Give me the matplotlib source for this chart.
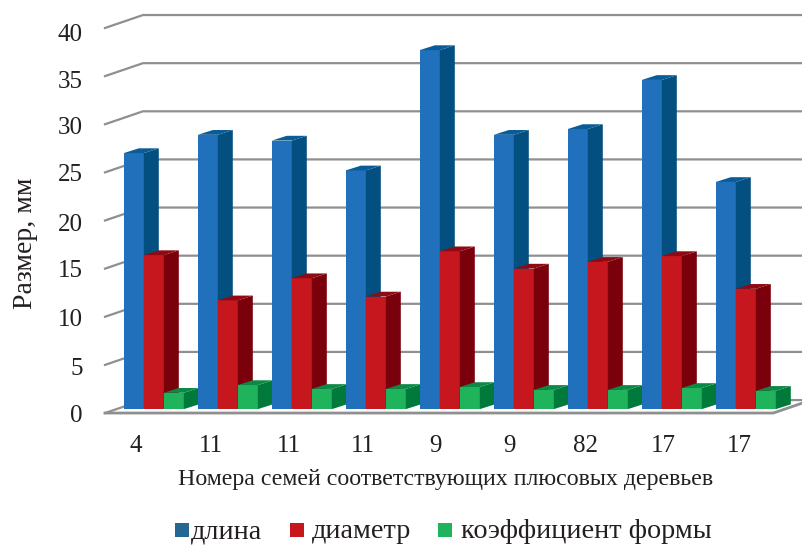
import matplotlib.pyplot as plt
from matplotlib.patches import Polygon, Rectangle

plt.rcParams["font.family"] = ["Liberation Serif", "DejaVu Serif"]

families = ["4", "11", "11", "11", "9", "9", "82", "17", "17"]
lengths = [26.6, 28.5, 27.9, 24.8, 37.3, 28.5, 29.1, 34.2, 23.6]
diameters = [16.0, 11.3, 13.6, 11.7, 16.4, 14.6, 15.3, 15.9, 12.5]
shape_coef = [1.7, 2.5, 2.1, 2.1, 2.3, 2.0, 2.0, 2.2, 1.9]
y_ticks = [0, 5, 10, 15, 20, 25, 30, 35, 40]

# the typeset tick labels are not evenly spaced, so they get their own positions
x_label_pos = [0.42, 1.43, 2.49, 3.49, 4.47, 5.47, 6.50, 7.55, 8.57]
y_label_pos = [-0.1, 4.8, 9.95, 15, 19.8, 25, 29.85, 34.6, 39.5]

WIDTH, HEIGHT = 802, 545
TEXT = "#231f20"
GRID = "#8f8f8f"
PX_X = 74  # pixels per category
PX_Y = 9.65  # pixels per size unit

# depth of the floor and of a single bar, in data units
WALL_DX, WALL_DY = 38 / PX_X, 13 / PX_Y
BAR_DX, BAR_DY = 15 / PX_X, 4.8 / PX_Y
BASE_DX, BASE_DY = 11.4 / PX_X, 3.9 / PX_Y
BAR_W = 20 / PX_X
GAP = 7.4 / PX_X
FLOOR_END = 9.03

series = [
    (lengths, "длина", "#2070bb", "#034f80", "#0a5c98", "#236792"),
    (diameters, "диаметр", "#c6171e", "#7a000c", "#8f0a12", "#c8161d"),
    (shape_coef, "коэффициент формы", "#1fb35b", "#007a3a", "#0b8a45", "#1fb35b"),
]
legend_box_x = [175, 290, 438]
legend_text_x = [191, 312, 461]

fig = plt.figure(figsize=(WIDTH / 100, HEIGHT / 100), dpi=100)
ax = fig.add_axes([105 / WIDTH, 1 - 414 / HEIGHT, 666 / WIDTH, 386 / HEIGHT])
ax.set_xlim(0, 9)
ax.set_ylim(0, 40)
for side in ax.spines.values():
    side.set_visible(False)

# back wall gridlines with their slanted run onto the side wall
right_edge = FLOOR_END + WALL_DX
for v in y_ticks:
    ax.plot(
        [0, WALL_DX, right_edge],
        [v, v + WALL_DY, v + WALL_DY],
        color=GRID,
        lw=1.6,
        clip_on=False,
        zorder=1,
    )

# floor outline
ax.plot([0, FLOOR_END, right_edge], [0, 0, WALL_DY], color=GRID, lw=2, clip_on=False, zorder=2)

for i in range(len(families)):
    for j, (values, _, front, dark, top, _) in enumerate(series):
        v = values[i]
        x0 = i + BASE_DX + GAP + j * BAR_W
        x1 = x0 + BAR_W
        y0 = BASE_DY
        y1 = y0 + v
        ax.bar(
            x0, v, BAR_W, bottom=y0, align="edge", color=front, lw=0, clip_on=False, zorder=3
        )
        ax.add_patch(
            Polygon(
                [(x1, y0), (x1 + BAR_DX, y0 + BAR_DY), (x1 + BAR_DX, y1 + BAR_DY), (x1, y1)],
                facecolor=dark,
                lw=0,
                clip_on=False,
                zorder=3,
            )
        )
        ax.add_patch(
            Polygon(
                [(x0, y1), (x0 + BAR_DX, y1 + BAR_DY), (x1 + BAR_DX, y1 + BAR_DY), (x1, y1)],
                facecolor=top,
                lw=0,
                clip_on=False,
                zorder=3,
            )
        )

ax.set_xticks(x_label_pos, families)
ax.set_yticks(y_label_pos, [str(v) for v in y_ticks])
ax.tick_params(axis="both", length=0, labelsize=18, labelcolor=TEXT)
ax.tick_params(axis="x", pad=15)
ax.tick_params(axis="y", pad=16)

ax.set_xlabel("Номера семей соответствующих плюсовых деревьев", fontsize=17.2, color=TEXT, va="center")
ax.xaxis.set_label_coords(341 / 666, -66 / 386)
fig.text(25 / WIDTH, 1 - 243 / HEIGHT, "Размер, мм", rotation=90, fontsize=20, color=TEXT, ha="center", va="center")

# legend row
for s, box_x, text_x in zip(series, legend_box_x, legend_text_x):
    fig.add_artist(
        Rectangle(
            (box_x / WIDTH, 1 - 537 / HEIGHT),
            14 / WIDTH,
            14 / HEIGHT,
            transform=fig.transFigure,
            facecolor=s[5],
            lw=0,
        )
    )
    fig.text(text_x / WIDTH, 1 - 538.5 / HEIGHT, s[1], fontsize=20.3, color=TEXT, ha="left", va="baseline")

fig.savefig("out.png", dpi=100)
